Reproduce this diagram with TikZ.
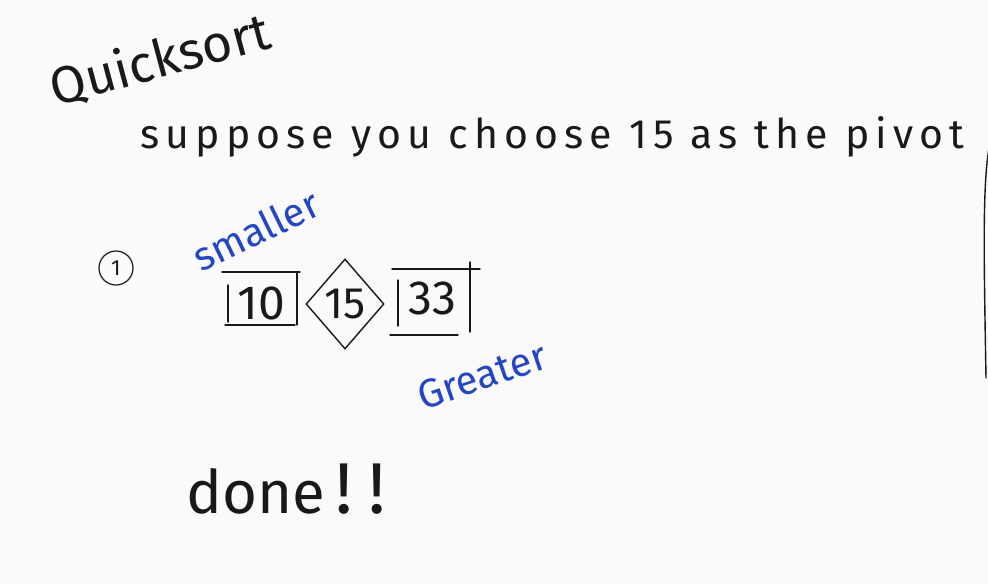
\documentclass[tikz,border=0pt]{standalone}
\usepackage{fontspec}
\setmainfont{Fira Sans}
\usetikzlibrary{positioning,shapes.geometric}
\definecolor{papier}{RGB}{250,250,250}
\definecolor{encre}{RGB}{25,25,25}
\definecolor{stylo}{RGB}{35,70,200}
\newcommand{\taille}[1]{\fontsize{#1}{#1}\selectfont}

\begin{document}
\begin{tikzpicture}[x=1pt,y=-1pt,
    main/.style={text=encre,inner sep=0pt},
    bleu/.style={text=stylo,inner sep=0pt,font=\taille{40}},
    trait/.style={draw=encre,line width=1.4pt,line cap=round}]
  \fill[papier] (0,0) rectangle (988,584);
  \useasboundingbox (0,0) rectangle (988,584);
  % titre et phrase
  \node[main,font=\taille{52},rotate=15] (titre) at (160,60) {Quicksort};
  \node[main,font=\taille{41}\addfontfeature{LetterSpace=15},anchor=base west] (phrase) at (140,148) {suppose you choose 15 as the pivot};
  % etape 1
  \node[main,circle,draw=encre,line width=1.2pt,minimum size=34pt,font=\taille{22}] (etape) at (116,268) {1};
  \node[bleu,rotate=26] (petit) at (256,230) {smaller};
  \node[main,font=\taille{48}] (dix) at (261,303) {10};
  \draw[trait] ([shift={(-39,-31)}]dix.center) -- ++(78,0);
  \draw[trait] ([shift={(-36,22)}]dix.center) -- ++(70,0);
  \draw[trait] ([shift={(-33,-18)}]dix.center) -- ++(0,37);
  \draw[trait] ([shift={(36,-31)}]dix.center) -- ++(0,53);
  \node[main,diamond,draw=encre,line width=1.4pt,minimum width=78pt,minimum height=90pt,font=\taille{44}] (quinze) at (345,304) {15};
  \node[main,font=\taille{48}] (trente) at (432,298) {33};
  \draw[trait] ([shift={(-40,-29)}]trente.center) -- ++(88,0);
  \draw[trait] ([shift={(-42,37)}]trente.center) -- ++(68,0);
  \draw[trait] ([shift={(-34,-18)}]trente.center) -- ++(0,46);
  \draw[trait] ([shift={(38,-36)}]trente.center) -- ++(0,70);
  \node[bleu,rotate=19] (grand) at (482,376) {Greater};
  % fin
  \node[main,font=\taille{60},anchor=base west] (fin) at (186,513) {done};
  \node[main,font=\taille{72},anchor=base west] (cri) at ([xshift=10pt]fin.base east) {!\hspace{16pt}!};
  % bord droit
  \draw[trait] (990,143) .. controls (982,180) and (984,260) .. (986,378);
\end{tikzpicture}
\end{document}
